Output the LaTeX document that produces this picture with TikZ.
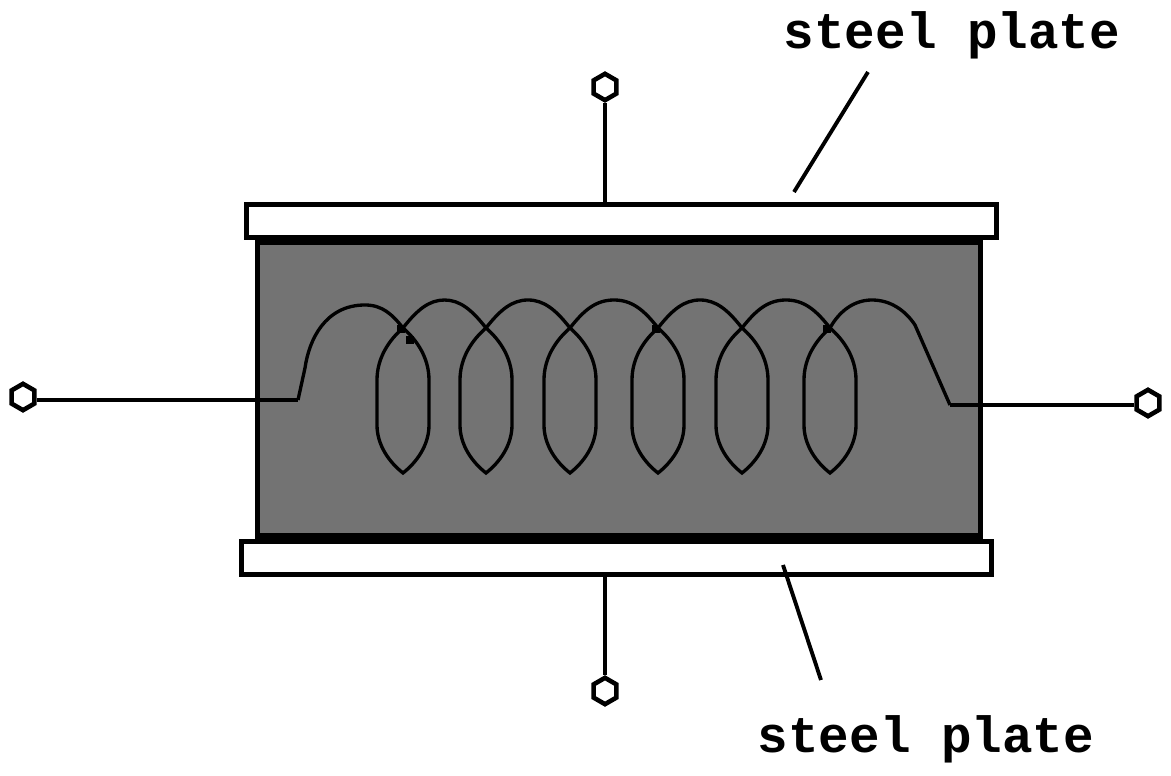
\documentclass[tikz,border=0pt]{standalone}
\usepackage{fontspec}
\usetikzlibrary{shapes.geometric}
\newfontfamily\platefont{Liberation Mono}[Scale=1]
\definecolor{coregray}{RGB}{115,115,115}
\tikzset{
  plate/.style={draw,line width=2.8pt,fill=white,minimum width=427pt,minimum height=19pt,inner sep=0pt,outer sep=0pt},
  term/.style={draw,line width=2.6pt,fill=white,regular polygon,regular polygon sides=6,shape border rotate=90,minimum size=15pt,inner sep=0pt},
  platelabel/.style={font=\platefont\bfseries\fontsize{29}{30}\selectfont,inner sep=0pt},
  wire/.style={line width=2.7pt},
  leader/.style={line width=2.2pt},
  coil/.style={line width=1.9pt}
}
\begin{document}
\begin{tikzpicture}[x=0.02cm,y=-0.02cm]
  \useasboundingbox (0,0) rectangle (1171,776);
  \draw[line width=2.8pt,fill=coregray] (257.5,240) rectangle (980.5,538);
  \draw[line width=5.6pt] (255,240) -- (983,240);
  \draw[line width=5.6pt] (255,538) -- (983,538);
  \node[plate] (topplate) at (621.5,221) {};
  \node[plate] (botplate) at (616.5,558) {};
  \coordinate (coilleft) at (298,400);
  \coordinate (coilright) at (950,405);
  \coordinate (leadtop) at (794,192);
  \coordinate (leadbot) at (783,565);
  \node[term] (termtop) at (605,87) {};
  \node[term] (termbot) at (605,691) {};
  \node[term] (termleft) at (23,397) {};
  \node[term] (termright) at (1148,403) {};
  \node[platelabel] (lbltop) at (952,35) {steel plate};
  \node[platelabel] (lblbot) at (926,739) {steel plate};
  \draw[wire] (termtop) -- (termtop |- topplate.north);
  \draw[wire] (termbot) -- (termbot |- botplate.south);
  \draw[wire] (termleft.east |- coilleft) -- (coilleft);
  \draw[wire] (termright.west |- coilright) -- (coilright);
  \draw[leader] (868,72) -- (leadtop);
  \draw[leader] (821,680) -- (leadbot);
  % the coil
  \draw[coil] (coilleft) -- (305,368) .. controls (309,340) and (325,305) .. (365,305)
    .. controls (382,305) and (392,314) .. (403,328);
  \foreach \x in {403,486,570,658,742,830}{
    \draw[coil] (\x,328) .. controls (\x+14,340) and (\x+26,358) .. (\x+26,380) -- (\x+26,425)
      .. controls (\x+26,445) and (\x+14,462) .. (\x,473)
      .. controls (\x-14,462) and (\x-26,445) .. (\x-26,425) -- (\x-26,380)
      .. controls (\x-26,358) and (\x-14,340) .. (\x,328);
  }
  \foreach \a/\b in {403/486,486/570,570/658,658/742,742/830}{
    \draw[coil] (\a,328) .. controls (\a+14,310) and (\a+26,300) .. ({(\a+\b)/2},300)
      .. controls (\b-26,300) and (\b-14,310) .. (\b,328);
  }
  \draw[coil] (830,328) .. controls (840,310) and (855,300) .. (872,300)
    .. controls (890,300) and (905,310) .. (915,325) -- (coilright);
  % blobs where the wire crosses
  \foreach \x/\y in {401/329,410/340,656/329,827/329}
    \fill (\x-4,\y-4) rectangle (\x+4,\y+4);
\end{tikzpicture}
\end{document}
